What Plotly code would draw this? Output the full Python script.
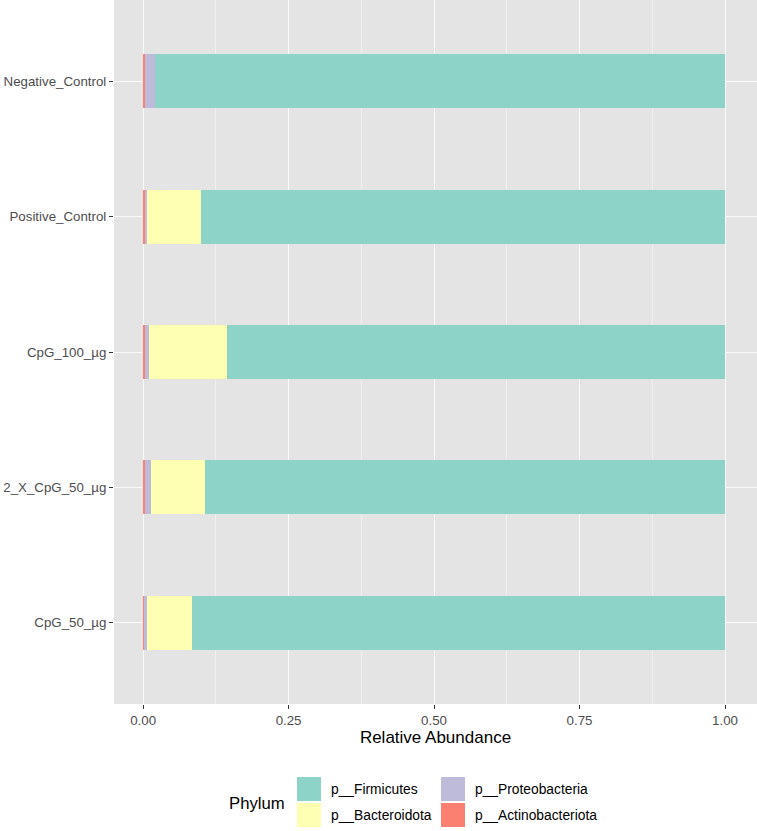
import plotly.graph_objects as go

samples = ["Negative_Control", "Positive_Control", "CpG_100_µg", "2_X_CpG_50_µg", "CpG_50_µg"]
phyla = ["p__Actinobacteriota", "p__Proteobacteria", "p__Bacteroidota", "p__Firmicutes"]
actinobacteriota = [0.003, 0.004, 0.0025, 0.0025, 0.0012]
proteobacteria = [0.017, 0.002, 0.008, 0.011, 0.0058]
bacteroidota = [0.000, 0.094, 0.133, 0.093, 0.077]
firmicutes = [0.980, 0.900, 0.8565, 0.8935, 0.916]
values = [actinobacteriota, proteobacteria, bacteroidota, firmicutes]
colors = {"p__Firmicutes": "#8DD3C7", "p__Bacteroidota": "#FFFFB3",
          "p__Proteobacteria": "#BEBADA", "p__Actinobacteriota": "#FB8072"}
x_ticks = [0.0, 0.25, 0.5, 0.75, 1.0]
x_tick_labels = ["0.00", "0.25", "0.50", "0.75", "1.00"]

W, H = 757, 831
ML, MR, MT, MB = 114, 0, 0, 127
PW, PH = W - ML - MR, H - MT - MB

fig = go.Figure()
for name, vals in zip(phyla, values):
    fig.add_trace(go.Bar(y=samples, x=vals, orientation="h", name=name,
                         marker=dict(color=colors[name], line=dict(width=0)),
                         width=0.4, showlegend=False))

def px(x):
    return (x - ML) / PW

def py(y):
    return (H - MB - y) / PH

# custom legend (ggplot-like)
legend_items = [("p__Firmicutes", 297, 777), ("p__Bacteroidota", 297, 803),
                ("p__Proteobacteria", 441, 777), ("p__Actinobacteriota", 441, 803)]
shapes = []
annotations = []
for name, lx, ly in legend_items:
    shapes.append(dict(type="rect", xref="paper", yref="paper",
                       x0=px(lx), x1=px(lx + 24), y0=py(ly + 24), y1=py(ly),
                       fillcolor=colors[name], line=dict(width=0), layer="above"))
    annotations.append(dict(xref="paper", yref="paper", x=px(lx + 32), y=py(ly + 12),
                            text=name, showarrow=False, xanchor="left", yanchor="middle",
                            font=dict(size=13.8, color="#000000")))
annotations.append(dict(xref="paper", yref="paper", x=px(287), y=py(803),
                        text="Phylum", showarrow=False, xanchor="right", yanchor="middle",
                        font=dict(size=16.7, color="#000000")))

fig.update_layout(
    width=W, height=H,
    margin=dict(l=ML, r=MR, t=MT, b=MB),
    barmode="stack",
    bargap=0.6,
    paper_bgcolor="white",
    plot_bgcolor="#E4E4E4",
    font=dict(family="Liberation Sans, Arial, sans-serif"),
    shapes=shapes,
    annotations=annotations,
    showlegend=False,
)
fig.update_xaxes(
    range=[-0.05, 1.055], tickvals=x_ticks, ticktext=x_tick_labels,
    showgrid=True, gridcolor="#FAFAFA", gridwidth=1.1,
    minor=dict(showgrid=True, gridcolor="#EFEFEF", gridwidth=0.6, dtick=0.125, tick0=0.125),
    ticks="outside", ticklen=4, tickcolor="#333333", tickwidth=1,
    tickfont=dict(size=13.3, color="#4D4D4D"),
    title=dict(text="Relative Abundance", font=dict(size=17, color="#000000"), standoff=2),
    zeroline=False, showline=False,
)
fig.update_yaxes(
    categoryorder="array", categoryarray=samples[::-1], range=[-0.6, 4.6],
    showgrid=True, gridcolor="#FAFAFA", gridwidth=1.1,
    ticks="outside", ticklen=4, tickcolor="#333333", tickwidth=1,
    tickfont=dict(size=13.3, color="#4D4D4D"),
    zeroline=False, showline=False,
)

fig.write_html("out.html")
